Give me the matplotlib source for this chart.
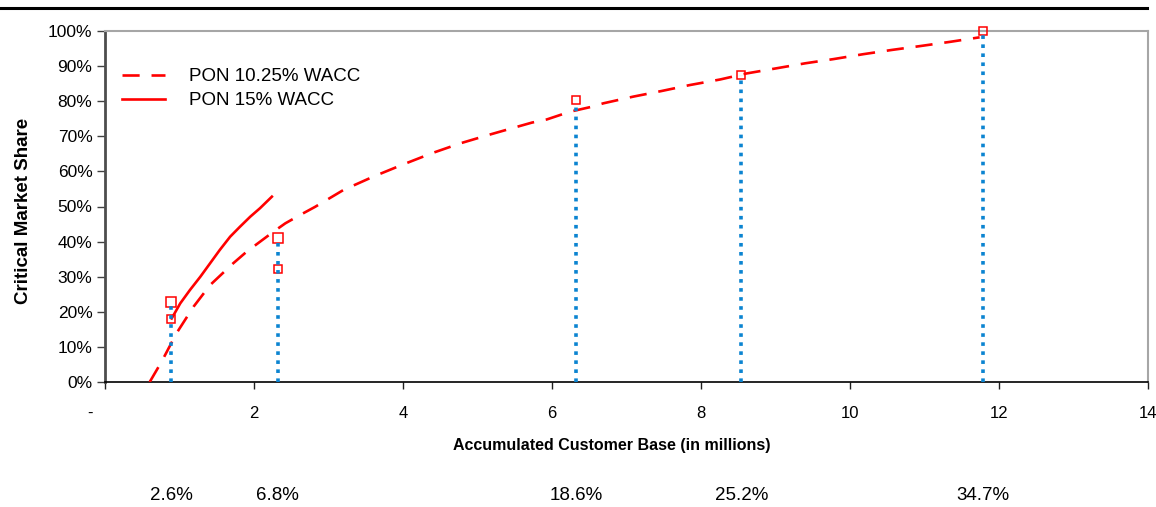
import matplotlib
matplotlib.use("Agg")
import matplotlib.pyplot as plt
import matplotlib.transforms as mtransforms
from matplotlib.lines import Line2D

plt.rcParams["font.family"] = ["Liberation Sans", "DejaVu Sans"]

# PON 10.25% WACC (dashed)
dash_x = [0.60, 0.76, 0.96, 1.19, 1.41, 1.72, 1.90, 2.26, 2.42, 2.62, 2.82, 3.20, 3.60,
          3.98, 4.39, 4.77, 5.15, 5.53, 5.73, 5.93, 6.24, 6.53, 6.69, 7.09, 7.47, 7.85,
          8.26, 8.61, 9.02, 9.40, 9.78, 10.18, 10.56, 10.94, 11.34, 11.74]
dash_y = [0.0, 5.8, 13.9, 21.5, 27.6, 33.8, 37.1, 42.8, 45.2, 47.6, 49.9, 54.7, 58.5,
          61.8, 65.2, 68.0, 70.4, 72.7, 73.9, 74.8, 77.0, 78.4, 79.4, 81.3, 82.9, 84.6,
          86.2, 87.9, 89.4, 90.8, 92.0, 93.4, 94.6, 95.7, 96.9, 98.2]

# PON 15% WACC (solid)
solid_x = [0.895, 1.01, 1.14, 1.28, 1.41, 1.54, 1.68, 1.81, 1.95, 2.08, 2.24]
solid_y = [18.1, 22.4, 26.2, 30.0, 33.8, 37.6, 41.4, 44.2, 47.1, 49.5, 52.8]

# red square markers
big_x = [0.886, 2.32]
big_y = [22.7, 40.9]
small_x = [0.886, 2.32, 6.32, 8.54, 11.78]
small_y = [17.9, 32.1, 80.3, 87.5, 100.0]

# blue drop lines + market share labels under the chart
vl_x = [0.886, 2.32, 6.32, 8.54, 11.78]
vl_top = [22.7, 40.9, 78.5, 87.5, 100.0]
share_labels = ["2.6%", "6.8%", "18.6%", "25.2%", "34.7%"]

x_ticks = [0, 2, 4, 6, 8, 10, 12, 14]
x_ticklabels = ["-", "2", "4", "6", "8", "10", "12", "14"]
y_ticks = [0, 10, 20, 30, 40, 50, 60, 70, 80, 90, 100]

RED = "#ff0000"
BLUE = "#0b84d1"

fig = plt.figure(figsize=(11.56, 5.07), dpi=100)
ax = fig.add_axes([105 / 1156, 1 - 382 / 507, 1043 / 1156, 351 / 507])

ax.plot(dash_x, dash_y, color=RED, lw=1.9, dashes=(6.5, 4.5), solid_capstyle="butt",
        label="PON 10.25% WACC", zorder=3)
ax.plot(solid_x, solid_y, color=RED, lw=1.9, label="PON 15% WACC", zorder=3)

ax.plot(big_x, big_y, ls="none", marker="s", ms=6.5, mfc="none", mec=RED, mew=1.1,
        clip_on=False, zorder=4)
ax.plot(small_x, small_y, ls="none", marker="s", ms=5.5, mfc="none", mec=RED, mew=1.1,
        clip_on=False, zorder=4)

ax.vlines(vl_x, 0, vl_top, colors=BLUE, linewidth=2.6, linestyles=(0, (1, 1.5)),
          zorder=5, clip_on=False)

ax.set_xlim(0, 14)
ax.set_ylim(0, 100)
ax.set_xticks(x_ticks)
ax.set_xticklabels(x_ticklabels, fontsize=12)
ax.set_yticks(y_ticks)
ax.set_yticklabels([f"{v}%" for v in y_ticks], fontsize=12.5)
ax.tick_params(axis="y", direction="out", length=6, width=1, pad=3, color="#404040")
ax.tick_params(axis="x", direction="out", length=5, width=1, pad=12, color="#202020")

# the "-" label sits a bit left of its tick
lbl0 = ax.get_xticklabels()[0]
lbl0.set_transform(lbl0.get_transform() + mtransforms.ScaledTranslation(-15 / 100, 0, fig.dpi_scale_trans))

for side in ("top", "right"):
    ax.spines[side].set_color("#a6a6a6")
    ax.spines[side].set_linewidth(1.5)
ax.spines["left"].set_color("#4d4d4d")
ax.spines["left"].set_linewidth(2)
ax.spines["bottom"].set_color("black")
ax.spines["bottom"].set_linewidth(1.2)

ax.set_ylabel("Critical Market Share", fontsize=13.5, fontweight="bold")
ax.yaxis.set_label_coords(-0.070, 0.487)
ax.set_xlabel("Accumulated Customer Base (in millions)", fontsize=11.5, fontweight="bold")
ax.xaxis.set_label_coords(0.486, -0.16)

ax.legend(loc="upper left", bbox_to_anchor=(0.009, 0.915), frameon=False, fontsize=13.5,
          handlelength=2.3, handletextpad=1.3, labelspacing=0.35, borderaxespad=0)

trans = mtransforms.blended_transform_factory(ax.transData, fig.transFigure)
for xv, s in zip(vl_x, share_labels):
    ax.text(xv, 1 - 495 / 507, s, transform=trans, ha="center", va="center", fontsize=13.5)

# slide rule across the top
fig.add_artist(Line2D([0, 1147 / 1156], [1 - 8 / 507, 1 - 8 / 507], color="black", lw=2.2,
                      transform=fig.transFigure))

fig.savefig("out.png", dpi=100)
